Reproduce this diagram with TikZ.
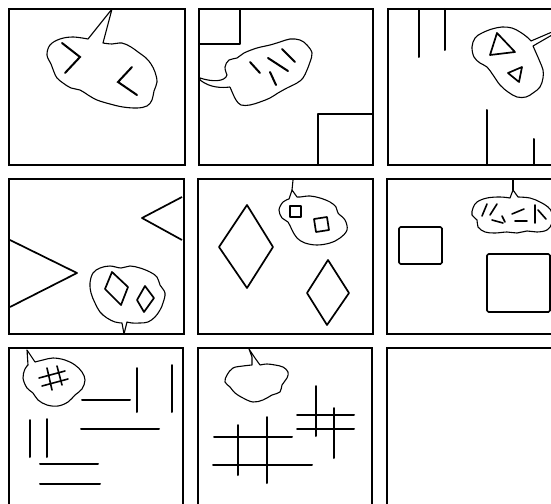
\documentclass[tikz,border=0pt]{standalone}
\begin{document}
\begin{tikzpicture}[x=1pt,y=-1pt,
  frame/.style={line width=1.5pt},
  shp/.style={line width=1.7pt, line join=round},
  cloudline/.style={line width=1.1pt, line join=round},
  strk/.style={line width=2pt, line cap=round}]
\useasboundingbox (0,0) rectangle (551,503);
\clip (0,0) rectangle (551,503);
\fill[white] (0,0) rectangle (551,503);
% frames
\draw[frame] (9,9) rectangle (185,165);
\draw[frame] (199,9) rectangle (373,165);
\draw[frame] (388,9) rectangle (560,165);
\draw[frame] (9,179) rectangle (184,334);
\draw[frame] (198,179) rectangle (373,334);
\draw[frame] (387,179) rectangle (560,334);
\draw[frame] (9,348) rectangle (183,520);
\draw[frame] (198,348) rectangle (372,520);
\draw[frame] (387,348) rectangle (560,520);

% ---------- panel 1
\draw[cloudline] plot[smooth, tension=0.6] coordinates {(88,39) (73,37) (60,39) (50,45) (47,55) (51,64) (54,72) (57,78) (63,83) (71,88) (80,90) (88,95) (97,100) (110,104) (123,107) (137,108) (147,106) (152,100) (154,91) (157,82) (155,72) (151,64) (146,58) (138,52) (131,47) (122,43) (112,44) (103,43)} -- (112,9) -- cycle;
\draw[strk] (62,43) -- (80,57) -- (65,73);
\draw[strk] (132,67) -- (118,82) -- (137,95);

% ---------- panel 2
\draw[shp] (199,44) -- (240,44) -- (240,9);
\draw[shp] (318,165) -- (318,114) -- (373,114);
\draw[cloudline] plot[smooth, tension=0.6] coordinates {(230,87) (233,94) (236,100) (241,105) (250,105) (260,102) (270,98) (278,93) (287,88) (297,83) (303,78) (307,70) (310,62) (312,53) (307,45) (300,40) (290,39) (280,42) (270,45) (257,48) (244,53) (237,58) (229,60) (225,67) (227,75)}
  .. controls (225,82) and (212,82) .. (200,78) -- (200,80) .. controls (210,88) and (222,88) .. (230,87);
\draw[strk] (250,62) -- (260,73);
\draw[strk] (268,58) -- (288,71);
\draw[strk] (282,49) -- (295,62);
\draw[strk] (270,72) -- (276,85);

% ---------- panel 3
\draw[strk] (419,9) -- (419,57);
\draw[strk] (445,9) -- (445,50);
\draw[strk] (487,110) -- (487,165);
\draw[strk] (534,139) -- (534,165);
\draw[cloudline] plot[smooth, tension=0.6] coordinates {(533,46) (537,55) (540,62) (543,70) (543,78) (540,87) (533,93) (526,97) (517,97) (508,92) (500,85) (493,75) (487,67) (480,63) (474,57) (472,47) (475,38) (482,33) (492,29) (502,27) (512,28) (520,32) (527,37) (531,41)} -- (552,32) -- (552,35) -- cycle;
\draw[shp] (497,33) -- (515,52) -- (490,55) -- cycle;
\draw[shp] (508,73) -- (522,67) -- (519,82) -- cycle;

% ---------- panel 4
\draw[shp] (10,240) -- (77,273) -- (10,307);
\draw[shp] (182,197) -- (142,218) -- (182,240);
\draw[cloudline] plot[smooth, tension=0.6] coordinates {(122,323) (115,322) (107,318) (100,312) (95,303) (91,293) (90,283) (93,273) (100,268) (110,266) (121,268) (130,266) (140,268) (150,272) (157,277) (160,285) (165,293) (163,303) (160,310) (155,317) (148,322) (140,323) (132,323) (127,322)} -- (124,334) -- cycle;
\draw[shp] (112,272) -- (128,287) -- (121,305) -- (105,289) -- cycle;
\draw[shp] (145,286) -- (154,298) -- (144,312) -- (137,300) -- cycle;

% ---------- panel 5
\draw[shp] (247,205) -- (273,247) -- (247,288) -- (219,247) -- cycle;
\draw[shp] (328,260) -- (349,293) -- (327,325) -- (307,293) -- cycle;
\draw[cloudline] plot[smooth, tension=0.6] coordinates {(297,197) (300,197) (310,196) (320,198) (330,202) (336,207) (338,213) (345,220) (347,230) (340,238) (330,243) (317,245) (305,243) (297,238) (292,230) (288,222) (282,218) (279,210) (283,202) (289,199)} -- (292,190) -- cycle;
\draw[cloudline] (292,190) -- (293,180);
\draw[shp] (290,206) rectangle (301,217);
\draw[shp] (314,219) -- (327,217) -- (329,230) -- (316,232) -- cycle;

% ---------- panel 6
\draw[shp, rounded corners=1.5pt] (399,227) rectangle (442,264);
\draw[shp, rounded corners=1.5pt] (487,254) rectangle (550,312);
\draw[cloudline] plot[smooth, tension=0.6] coordinates {(518,197) (530,198) (540,202) (548,207) (552,213) (552,223) (547,230) (537,232) (527,231) (517,233) (507,232) (495,233) (485,232) (478,227) (477,220) (472,215) (473,208) (477,202) (487,198) (500,197) (510,198)} -- (513,190) -- cycle;
\draw[cloudline] (513,190) -- (513,180);
\draw[strk, line width=1.6pt] (487,204) -- (482,216);
\draw[strk, line width=1.6pt] (497,204) -- (490,215);
\draw[strk, line width=1.6pt] (492,220) -- (503,223);
\draw[strk, line width=1.6pt] (502,216) -- (505,222);
\draw[strk, line width=1.6pt] (512,214) -- (524,209);
\draw[strk, line width=1.6pt] (515,221) -- (527,221);
\draw[strk, line width=1.6pt] (535,205) -- (535,223);
\draw[strk, line width=1.6pt] (538,210) -- (546,219);

% ---------- panel 7
\draw[cloudline] plot[smooth, tension=0.6] coordinates {(35,362) (43,360) (53,358) (65,360) (75,365) (82,372) (85,380) (82,389) (75,395) (68,402) (58,406) (47,405) (38,400) (33,393) (27,388) (23,378) (25,369) (28,365)} -- (27,350) -- cycle;
\draw[strk, line width=1.6pt] (39,378) -- (65,371);
\draw[strk, line width=1.6pt] (42,386) -- (68,379);
\draw[strk, line width=1.6pt] (47,368) -- (52,390);
\draw[strk, line width=1.6pt] (57,366) -- (62,385);
\draw[strk] (82,400) -- (130,400);
\draw[strk] (137,368) -- (137,412);
\draw[strk] (172,365) -- (172,412);
\draw[strk] (81,429) -- (159,429);
\draw[strk] (30,420) -- (30,457);
\draw[strk] (47,419) -- (47,457);
\draw[strk] (40,464) -- (98,464);
\draw[strk] (40,484) -- (100,484);

% ---------- panel 8
\draw[cloudline] plot[smooth, tension=0.6] coordinates {(260,365) (267,364) (275,365) (283,367) (288,372) (287,378) (282,385) (280,392) (272,395) (263,400) (253,402) (243,398) (235,393) (230,387) (225,382) (227,375) (233,368) (243,366) (252,365)} -- (252,357) -- (249,349) -- (255,358) -- cycle;
\draw[strk] (214,437) -- (292,437);
\draw[strk] (213,465) -- (312,465);
\draw[strk] (238,425) -- (238,475);
\draw[strk] (267,417) -- (267,483);
\draw[strk] (297,415) -- (354,415);
\draw[strk] (297,429) -- (354,429);
\draw[strk] (316,386) -- (316,436);
\draw[strk] (334,408) -- (334,458);
\end{tikzpicture}
\end{document}
